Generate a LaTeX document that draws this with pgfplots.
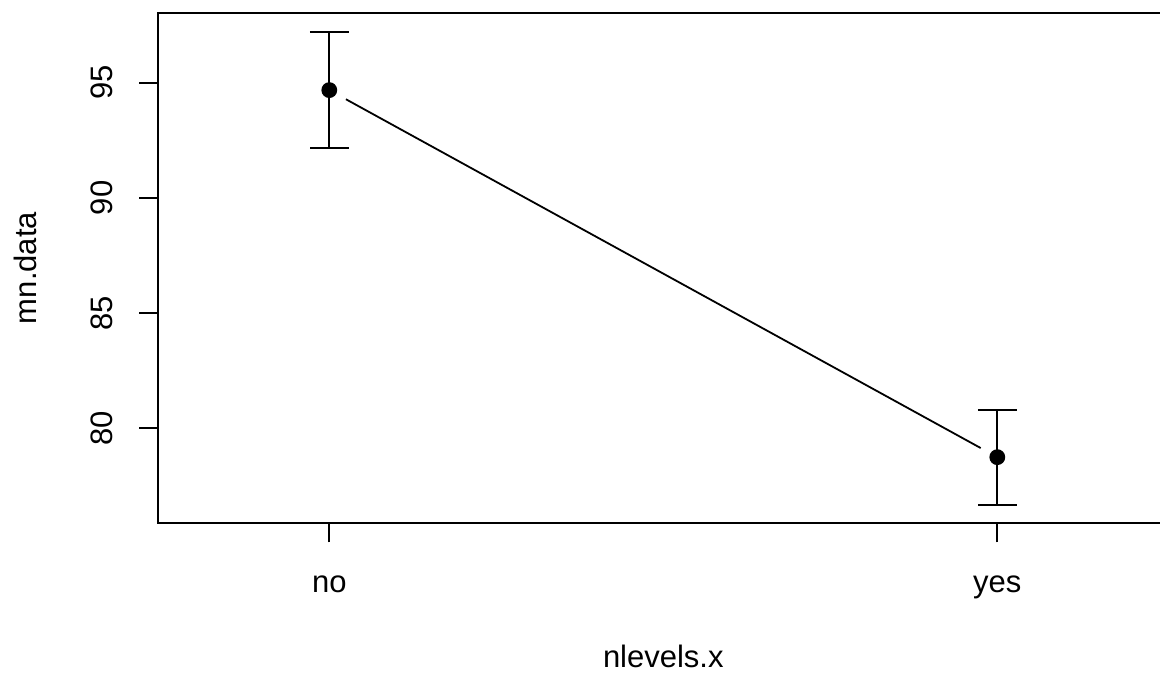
\documentclass[border=0pt]{standalone}
\usepackage{pgfplots}
\pgfplotsset{compat=1.18}
\usepackage{fontspec}
\setmainfont{Liberation Sans}
\begin{document}
\begin{tikzpicture}[font=\fontsize{15.5}{18.6}\selectfont]
\begin{axis}[
  at={(0,0)}, anchor=south west,
  scale only axis, width=505pt, height=255.3pt,
  xmin=0.744, xmax=2.256, ymin=75.88, ymax=98.04,
  xtick={1,2}, xticklabels={no,yes},
  ytick={80,85,90,95},
  xtick pos=bottom, ytick pos=left,
  tick align=outside, major tick length=9.5pt,
  tick style={black, line width=0.9pt},
  axis line style={line width=0.9pt},
  /pgf/number format/assume math mode=true,
  xticklabel shift=25pt, yticklabel shift=13.35pt,
  xticklabel style={anchor=base, font=\fontsize{15.5}{18.6}\selectfont},
  yticklabel style={rotate=90, anchor=base, font=\fontsize{15.5}{18.6}\selectfont},
  clip=false,
]
\addplot[black, line width=0.9pt, mark=*, mark size=3.5pt, only marks,
  error bars/.cd, y dir=both, y explicit,
  error bar style={line width=0.9pt},
  error mark options={line width=0.9pt, mark size=9.75pt, rotate=90}]
  coordinates {(1,94.68) +- (0,2.52) (2,78.75) +- (0,2.06)};
\addplot[black, line width=0.9pt, no marks, shorten <=9.5pt, shorten >=9.5pt]
  coordinates {(1,94.68) (2,78.75)};
\end{axis}
\node[rotate=90, anchor=base] at (-60.65pt,127.65pt) {mn.data};
\node[anchor=base] at (252.5pt,-72.35pt) {nlevels.x};
\pgfresetboundingbox
\useasboundingbox (-79.15pt,-74.85pt) rectangle (500.85pt,261.65pt);
\end{tikzpicture}
\end{document}
